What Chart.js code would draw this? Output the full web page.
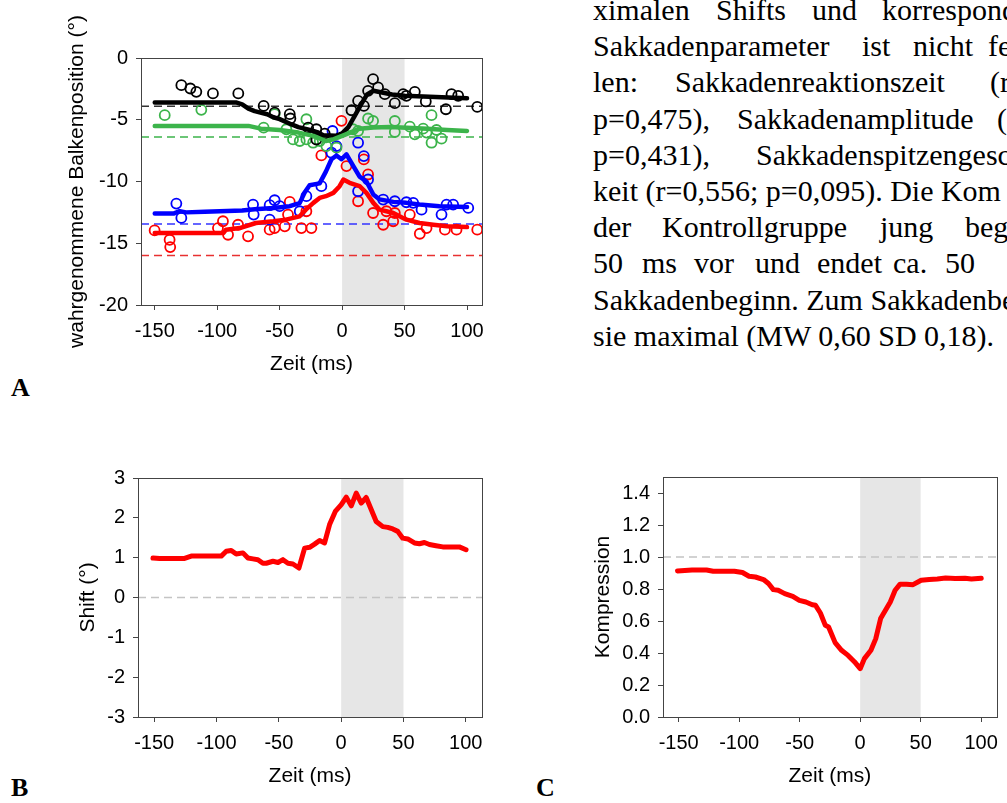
<!DOCTYPE html>
<html lang="de">
<head>
<meta charset="utf-8">
<script src="https://cdn.jsdelivr.net/npm/chart.js@4.4.1/dist/chart.umd.min.js"></script>
<style>
  html, body { margin: 0; padding: 0; background: #fff; }
  body { width: 1007px; height: 803px; overflow: hidden; position: relative; }
  canvas { position: absolute; }
  .line { position: absolute; font-family: "Liberation Serif", "Times New Roman", serif; font-size: 30px; line-height: 36px; white-space: nowrap; color: #000; }
  .line span { position: absolute; top: 0; }
  .panel { position: absolute; font-family: "Liberation Serif", serif; font-weight: bold; font-size: 26px; line-height: 30px; }
</style>
</head>
<body>
<div id="text"></div>
<canvas id="chartA" width="470" height="383" style="left:30px;top:0px"></canvas>
<canvas id="chartB" width="470" height="345" style="left:30px;top:450px"></canvas>
<canvas id="chartC" width="447" height="345" style="left:560px;top:450px"></canvas>
<div class="panel" style="left:11px;top:373px">A</div>
<div class="panel" style="left:11px;top:773px">B</div>
<div class="panel" style="left:536px;top:773px">C</div>

<script>
// shared time axis (ms relative to saccade onset)
const timeTicks = [-150, -100, -50, 0, 50, 100];
const saccadeWindow = [0, 50];

// A: perceived bar position (deg), smoothed curves + single estimates
const posTicks = [0, -5, -10, -15, -20];
const blackRef = -3.9;
const greenRef = -6.4;
const blueRef = -13.45;
const redRef = -16.0;

const blackFit = [[-150,-3.6],[-85,-3.6],[-80,-3.75],[-75,-4.1],[-70,-4.3],[-60,-4.55],[-55,-4.8],[-50,-4.95],[-40,-5.4],[-35,-5.6],[-25,-5.85],[-20,-6.0],[-15,-6.25],[-5,-6.3],[0,-6.1],[5,-5.6],[10,-4.7],[15,-3.8],[20,-2.95],[25,-2.65],[30,-2.75],[40,-2.95],[50,-3.05],[60,-3.1],[75,-3.15],[85,-3.2],[100,-3.25]];
const greenFit = [[-150,-5.5],[-75,-5.5],[-65,-5.72],[-50,-5.83],[-35,-6.04],[-23,-6.31],[-13,-6.72],[-7,-6.59],[3,-6.18],[14,-5.72],[25,-5.62],[38,-5.58],[52,-5.64],[68,-5.72],[84,-5.83],[100,-5.91]];
const blueFit = [[-150,-12.6],[-135,-12.6],[-130,-12.4],[-125,-12.5],[-110,-12.45],[-80,-12.35],[-70,-12.25],[-55,-12.15],[-42,-12.0],[-34,-11.75],[-30,-10.9],[-26,-10.3],[-18,-10.15],[-13,-9.2],[-8.5,-8.2],[-4.5,-7.9],[-0.5,-8.2],[3.5,-7.8],[9,-8.75],[14,-9.6],[19.5,-10.0],[25,-11.05],[30,-11.45],[41,-11.65],[51.5,-11.73],[62,-11.87],[78,-12.0],[100,-12.06]];
const redFit = [[-150,-14.17],[-95,-14.17],[-93,-13.9],[-82,-13.77],[-69,-13.36],[-55,-13.22],[-45,-13.09],[-34,-12.82],[-29,-12.28],[-23,-11.73],[-18,-11.33],[-13,-11.19],[-7,-10.92],[-2,-10.38],[1,-9.84],[6,-10.11],[14,-10.38],[19.5,-10.92],[25,-11.73],[30,-12.28],[35.5,-12.41],[41,-12.55],[46,-12.82],[51.5,-13.09],[62,-13.36],[73,-13.5],[84,-13.63],[100,-13.69]];

const blackDots = [[-128.7,-2.2],[-121.5,-2.47],[-116.7,-2.74],[-103.4,-2.87],[-83.1,-2.87],[-62.8,-3.88],[-54,-4.42],[-41.9,-4.55],[-41.4,-4.9],[-27.2,-5.64],[-20.6,-5.77],[-13.9,-6.12],[-20.6,-6.6],[7.5,-4.23],[12.8,-3.47],[17.4,-3.88],[20.8,-2.66],[24.8,-1.71],[28.8,-2.38],[34.2,-2.93],[42.2,-3.66],[48.9,-2.93],[51.5,-3.06],[58.2,-2.74],[67,-3.52],[83.1,-4.15],[87.6,-2.93],[92.9,-3.06],[108.2,-3.96]];
const greenDots = [[-142,-4.63],[-112.7,-4.2],[-62.8,-5.64],[-54,-4.55],[-44.6,-5.77],[-39.3,-6.59],[-33.9,-6.72],[-28.6,-4.96],[-28.6,-6.59],[-23.2,-6.86],[-17.9,-6.72],[-12.6,-7.13],[-4.5,-7.26],[8.8,-5.77],[12.8,-5.91],[20.8,-4.9],[24.8,-5.1],[42.2,-5.1],[42.2,-5.99],[54.2,-5.56],[58.2,-6.18],[64.9,-5.72],[67.6,-6.04],[71.6,-4.63],[71.6,-6.86],[75.6,-5.83],[79.6,-6.53]];
const blueDots = [[-132.7,-11.79],[-128.7,-12.95],[-71.3,-11.87],[-70.8,-12.68],[-58,-11.92],[-54,-11.52],[-58,-13.09],[-50,-12.0],[-33.9,-12.41],[-28.6,-11.19],[-16.6,-10.38],[-8.5,-7.67],[-7.7,-5.91],[-4.5,-7.13],[12.8,-6.86],[17.4,-7.94],[12.8,-10.79],[20.8,-9.84],[32.9,-11.46],[42.2,-11.6],[51.5,-11.68],[56.9,-11.73],[63.6,-12.28],[79.6,-12.68],[83.6,-11.87],[88.9,-11.87],[101,-12.14]];
const redDots = [[-150.1,-13.96],[-138.1,-14.72],[-137.6,-15.31],[-99.4,-13.77],[-95.4,-13.22],[-91.3,-14.31],[-83.3,-13.5],[-75.3,-14.44],[-58,-13.9],[-54,-13.77],[-45.9,-13.63],[-43.3,-12.68],[-41.9,-11.65],[-32.6,-13.77],[-28.6,-12.41],[-24.6,-13.77],[-16.6,-7.89],[-0.5,-5.09],[3.5,-8.75],[12.8,-11.6],[17.4,-8.21],[20.8,-9.43],[24.8,-12.55],[32.9,-13.5],[35.5,-12.41],[40.9,-13.22],[42.2,-12.55],[54.2,-12.68],[62.2,-14.23],[67.6,-13.77],[82.3,-13.9],[91.6,-13.9],[108.2,-13.9]];

// B: shift (deg)
const shiftTicks = [3, 2, 1, 0, -1, -2, -3];
const shiftRef = 0;
const shiftCurve = [[-151,0.99],[-145.7,0.98],[-125.6,0.98],[-120.3,1.04],[-96.2,1.04],[-92.2,1.16],[-88.2,1.18],[-84.2,1.09],[-78.8,1.12],[-74.8,0.99],[-70.8,0.97],[-66.8,0.95],[-62.8,0.86],[-60.1,0.86],[-54.7,0.91],[-50.7,0.88],[-46.7,0.95],[-42.7,0.86],[-38.7,0.84],[-33.9,0.74],[-29.3,1.24],[-25.3,1.26],[-21.3,1.34],[-17.3,1.43],[-13.3,1.37],[-9.3,1.83],[-4.7,2.16],[0.1,2.33],[4.1,2.52],[8.1,2.30],[12.1,2.62],[16.1,2.37],[20.1,2.51],[24.1,2.21],[28.1,1.91],[33.4,1.78],[37.4,1.76],[41.4,1.72],[45.4,1.66],[49.4,1.49],[53.4,1.47],[58.8,1.37],[62.8,1.35],[66.8,1.38],[70.8,1.33],[76.1,1.30],[81.5,1.27],[86.8,1.27],[94.8,1.27],[100.2,1.20]];

// C: compression index
const compTicks = [0, 0.2, 0.4, 0.6, 0.8, 1.0, 1.2, 1.4];
const compRef = 1.0;
const compCurve = [[-151,0.913],[-139,0.919],[-127,0.919],[-121.5,0.911],[-104,0.911],[-97.3,0.903],[-91.9,0.880],[-86.6,0.875],[-79.9,0.859],[-75.8,0.834],[-71.8,0.796],[-67.8,0.792],[-62.4,0.771],[-55.7,0.754],[-50.3,0.729],[-44.9,0.719],[-39.6,0.702],[-36.9,0.698],[-32.9,0.650],[-28.8,0.573],[-26.1,0.563],[-20.7,0.465],[-15.4,0.417],[-10,0.385],[-4.6,0.344],[0,0.302],[3.5,0.365],[8.9,0.417],[12.9,0.490],[16.9,0.615],[20.9,0.667],[24.9,0.719],[28.9,0.792],[33,0.830],[38.3,0.830],[43.7,0.827],[50.4,0.855],[57.1,0.859],[63.8,0.863],[70.6,0.869],[78.6,0.865],[86.7,0.867],[92,0.863],[100.1,0.867]];

// running text beside panel A, word start positions per line
const textLines = [
  [[593, "ximalen"], [716, "Shifts"], [812, "und"], [882, "korrespond"]],
  [[593, "Sakkadenparameter"], [862, "ist"], [913, "nicht"], [988, "fe"]],
  [[593, "len:"], [675, "Sakkadenreaktionszeit"], [990, "(r"]],
  [[593, "p=0,475),"], [737, "Sakkadenamplitude"], [997, "("]],
  [[593, "p=0,431),"], [756, "Sakkadenspitzengeschw"]],
  [[593, "keit (r=0,556; p=0,095). Die Kom"]],
  [[593, "der"], [662, "Kontrollgruppe"], [880, "jung"], [965, "begi"]],
  [[593, "50"], [642, "ms"], [694, "vor"], [755, "und"], [817, "endet"], [893, "ca."], [945, "50"]],
  [[593, "Sakkadenbeginn. Zum Sakkadenbe"]],
  [[593, "sie maximal (MW 0,60 SD 0,18)."]]
];

const textBox = document.getElementById("text");
textLines.forEach((words, i) => {
  const div = document.createElement("div");
  div.className = "line";
  div.style.top = (-8 + i * 36.2) + "px";
  div.style.left = "0px";
  words.forEach(([x, w]) => {
    const s = document.createElement("span");
    s.style.left = x + "px";
    s.textContent = w;
    div.appendChild(s);
  });
  textBox.appendChild(div);
});

const FONT = "'Liberation Sans', Arial, sans-serif";
const AXIS = "#444";

// grey saccade band behind the data, box frame on top
const bandPlugin = {
  id: "band",
  beforeDatasetsDraw(chart) {
    const { ctx, chartArea: a, scales: { x } } = chart;
    const x0 = x.getPixelForValue(saccadeWindow[0]);
    const x1 = x.getPixelForValue(saccadeWindow[1]);
    ctx.save();
    ctx.fillStyle = "#e6e6e6";
    ctx.fillRect(x0, a.top, x1 - x0, a.bottom - a.top);
    ctx.restore();
  },
  afterDraw(chart) {
    const { ctx, chartArea: a } = chart;
    ctx.save();
    ctx.strokeStyle = AXIS;
    ctx.lineWidth = 1;
    ctx.strokeRect(Math.round(a.left) + 0.5, Math.round(a.top) + 0.5, Math.round(a.right - a.left), Math.round(a.bottom - a.top));
    ctx.restore();
  }
};

function refLine(v, xMin, xMax, color) {
  return {
    data: [[xMin, v], [xMax, v]],
    borderColor: color, borderWidth: 1.5, borderDash: [8, 5],
    pointRadius: 0, order: 10
  };
}

function curve(data, color, width) {
  return {
    data, borderColor: color, borderWidth: width, pointRadius: 0,
    tension: 0, borderJoinStyle: "round", borderCapStyle: "round", order: 1
  };
}

function dots(data, color) {
  return {
    data, showLine: false, borderColor: color, pointBorderColor: color,
    pointBackgroundColor: "rgba(0,0,0,0)", pointRadius: 5, pointBorderWidth: 1.8, order: 5
  };
}

function makeChart(id, cfg) {
  const tickFont = { family: FONT, size: 20 };
  const titleFont = { family: FONT, size: 21 };
  return new Chart(document.getElementById(id), {
    type: "line",
    data: { datasets: cfg.datasets },
    options: {
      responsive: false,
      animation: false,
      events: [],
      layout: { padding: { left: 0, top: cfg.padTop, right: cfg.padRight, bottom: 0 } },
      plugins: { legend: { display: false }, tooltip: { enabled: false } },
      scales: {
        x: {
          type: "linear", min: cfg.xMin, max: cfg.xMax,
          afterBuildTicks: s => { s.ticks = timeTicks.map(v => ({ value: v })); },
          afterFit: s => { s.height = cfg.xHeight; },
          grid: { drawOnChartArea: false, drawTicks: true, tickLength: 5, color: AXIS },
          border: { color: AXIS },
          ticks: { padding: 9, color: "#000", font: tickFont, autoSkip: false, maxRotation: 0, callback: v => String(v) },
          title: { display: true, text: "Zeit (ms)", color: "#000", font: titleFont, padding: { top: 0, bottom: 6 } }
        },
        y: {
          type: "linear", min: cfg.yMin, max: cfg.yMax,
          afterBuildTicks: s => { s.ticks = cfg.yTicks.map(v => ({ value: v })); },
          afterFit: s => { s.width = cfg.yWidth; },
          grid: { drawOnChartArea: false, drawTicks: true, tickLength: 5, color: AXIS },
          border: { color: AXIS },
          ticks: { padding: 8, color: "#000", font: tickFont, autoSkip: false, callback: cfg.yFmt },
          title: { display: true, text: cfg.yTitle, color: "#000", font: titleFont, padding: { top: cfg.yTitlePad, bottom: 0 } }
        }
      }
    },
    plugins: [bandPlugin]
  });
}

// A
const aMin = -161, aMax = 112;
makeChart("chartA", {
  xMin: aMin, xMax: aMax, yMin: -20, yMax: 0, yTicks: posTicks,
  yFmt: v => String(v), yTitle: "wahrgenommene Balkenposition (°)",
  yTitlePad: 35, yWidth: 111, xHeight: 78, padTop: 58, padRight: 18,
  datasets: [
    refLine(blackRef, aMin, aMax, "#333"),
    refLine(greenRef, aMin, aMax, "#3cb44b"),
    refLine(blueRef, aMin, aMax, "#3333ff"),
    refLine(redRef, aMin, aMax, "#e83030"),
    dots(blackDots, "#000"),
    dots(greenDots, "#3cb44b"),
    dots(blueDots, "#0000ff"),
    dots(redDots, "#ff0000"),
    curve(greenFit, "#3cb44b", 4.5),
    curve(blackFit, "#000", 4.5),
    curve(blueFit, "#0000ff", 4.5),
    curve(redFit, "#ff0000", 4.5)
  ]
});

// B
const bMin = -163, bMax = 113;
makeChart("chartB", {
  xMin: bMin, xMax: bMax, yMin: -3, yMax: 3, yTicks: shiftTicks,
  yFmt: v => String(v), yTitle: "Shift (°)",
  yTitlePad: 46, yWidth: 108, xHeight: 78, padTop: 28, padRight: 18,
  datasets: [
    refLine(shiftRef, bMin, bMax, "#c4c4c4"),
    curve(shiftCurve, "#ff0000", 5)
  ]
});

// C
const cMin = -163, cMax = 113;
makeChart("chartC", {
  xMin: cMin, xMax: cMax, yMin: 0, yMax: 1.5, yTicks: compTicks,
  yFmt: v => v.toFixed(1), yTitle: "Kompression",
  yTitlePad: 31, yWidth: 103, xHeight: 78, padTop: 27, padRight: 4,
  datasets: [
    refLine(compRef, cMin, cMax, "#c4c4c4"),
    curve(compCurve, "#ff0000", 5)
  ]
});
</script>
</body>
</html>
